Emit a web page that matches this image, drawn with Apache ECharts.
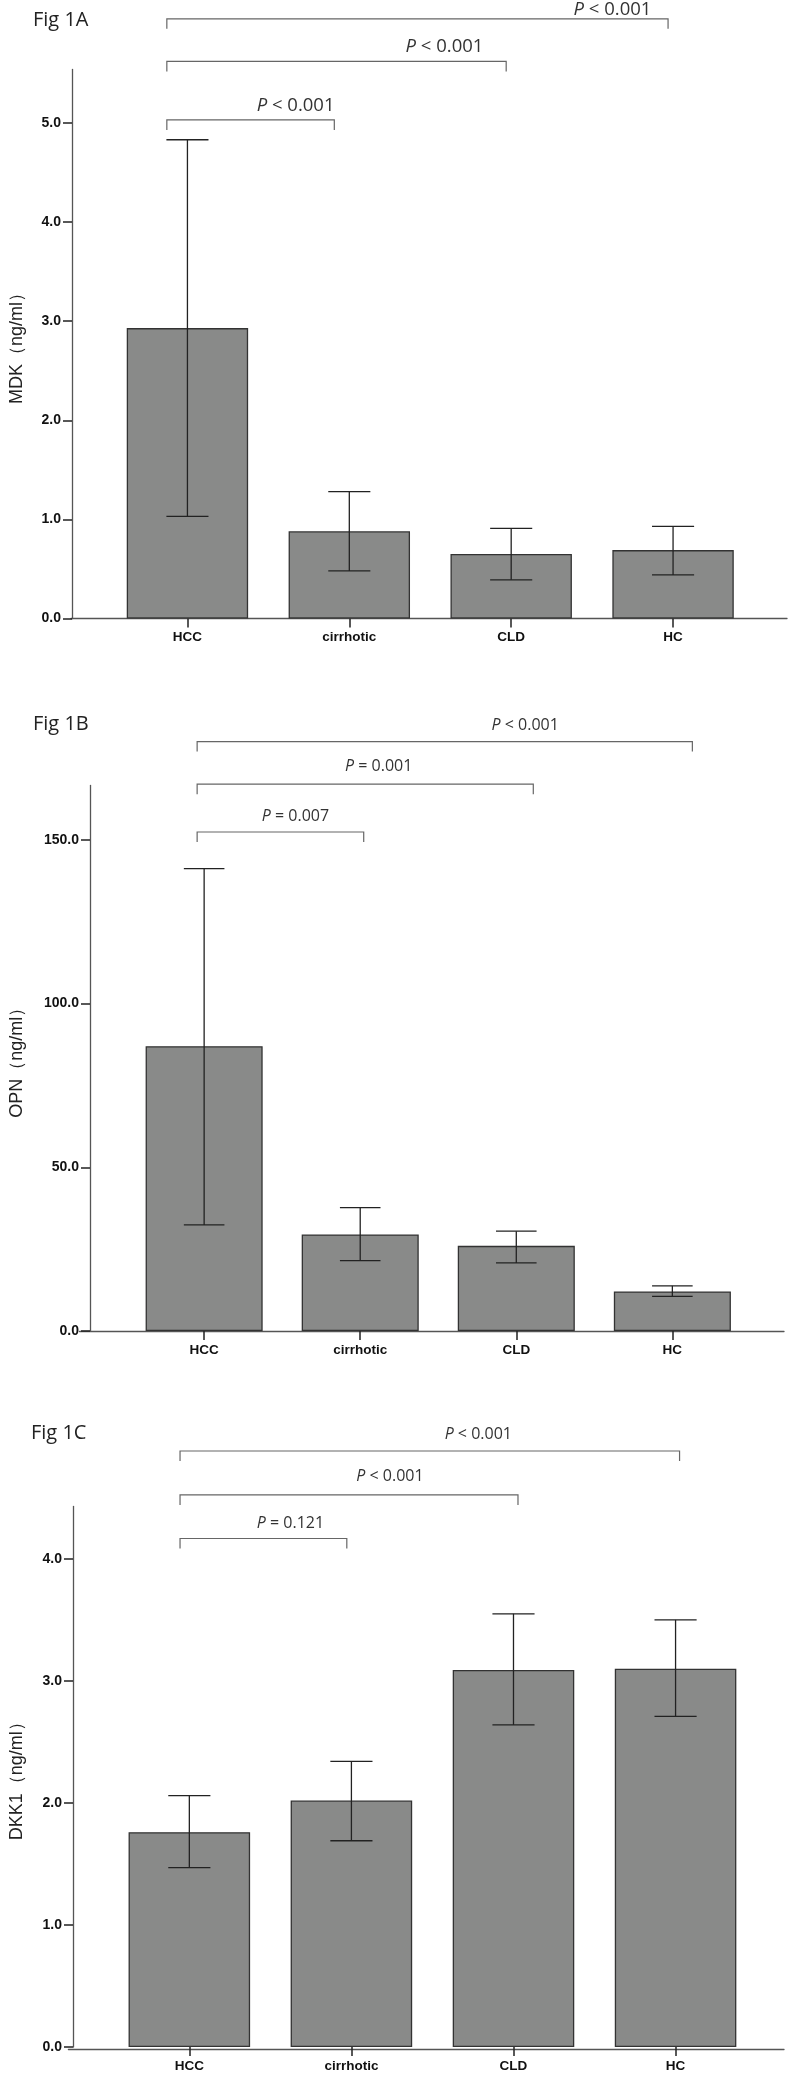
<!DOCTYPE html>
<html>
<head>
<meta charset="utf-8">
<script src="https://cdn.jsdelivr.net/npm/echarts@6/dist/echarts.min.js"></script>
<style>
* { margin: 0; padding: 0; }
body { background: #fff; }
#main { width: 794px; height: 2073px; }
</style>
</head>
<body>
<div id="main"></div>
<script>
var categories = ['HCC', 'cirrhotic', 'CLD', 'HC'];

// Fig 1A - MDK
var mdkMean = [2.93, 0.88, 0.65, 0.69];
var mdkLow = [1.03, 0.48, 0.39, 0.44];
var mdkHigh = [4.83, 1.28, 0.91, 0.93];
var mdkTicks = [0, 1, 2, 3, 4, 5];
var mdkP = ['P < 0.001', 'P < 0.001', 'P < 0.001'];

// Fig 1B - OPN
var opnMean = [87.0, 29.5, 26.0, 12.1];
var opnLow = [32.4, 21.5, 20.8, 10.6];
var opnHigh = [141.2, 37.7, 30.5, 13.8];
var opnTicks = [0, 50, 100, 150];
var opnP = ['P = 0.007', 'P = 0.001', 'P < 0.001'];

// Fig 1C - DKK1
var dkkMean = [1.76, 2.02, 3.09, 3.10];
var dkkLow = [1.47, 1.69, 2.64, 2.71];
var dkkHigh = [2.06, 2.34, 3.55, 3.50];
var dkkTicks = [0, 1, 2, 3, 4];
var dkkP = ['P = 0.121', 'P < 0.001', 'P < 0.001'];

// HCC compared with cirrhotic, CLD, HC
var pairs = [[0, 1], [0, 2], [0, 3]];

// layout of each panel (pixels)
var panels = [
  {
    title: 'Fig 1A', titleX: 33, titleY: 22, name: 'MDK（ng/ml）',
    mean: mdkMean, low: mdkLow, high: mdkHigh, ticks: mdkTicks, p: mdkP,
    left: 105.5, right: 40, top: 69.4, bottom: 1454.5, axisX: 71, axisEnd: 787,
    max: 5.54, nameGap: 46,
    levels: [5.03, 5.62, 6.05], dxL: [-20.6, -20.6, -20.6], dxR: [-15, -5, -5],
    textDx: [45, 108, 195], textDy: [14, 14.8, 9.5], pFont: 18.5
  },
  {
    title: 'Fig 1B', titleX: 33, titleY: 726, name: 'OPN（ng/ml）',
    mean: opnMean, low: opnLow, high: opnHigh, ticks: opnTicks, p: opnP,
    left: 115.6, right: 43.6, top: 785.5, bottom: 742, axisX: 79.5, axisEnd: 784,
    max: 166.6, nameGap: 64,
    levels: [152.4, 167.0, 180.0], dxL: [-7, -7, -7], dxR: [3.5, 17, 20],
    textDx: [15, 13.5, 80.5], textDy: [16, 17.5, 16], pFont: 16
  },
  {
    title: 'Fig 1C', titleX: 31, titleY: 1435, name: 'DKK1（ng/ml）',
    mean: dkkMean, low: dkkLow, high: dkkHigh, ticks: dkkTicks, p: dkkP,
    left: 103.7, right: 37.4, top: 1506.4, bottom: 24, axisX: 68.4, axisEnd: 784,
    max: 4.43, nameGap: 47,
    levels: [4.167, 4.524, 4.884], dxL: [-9.3, -9.3, -9.3], dxR: [-4.6, 4.5, 4],
    textDx: [27, 41, 48.5], textDy: [15, 18, 17], pFont: 16
  }
];

function errorBar(params, api) {
  var i = api.value(0);
  var lo = api.coord([i, api.value(1)]);
  var hi = api.coord([i, api.value(2)]);
  var hw = api.size([1, 0])[0] * 0.13;
  var st = { stroke: '#222', lineWidth: 1.3 };
  return {
    type: 'group',
    children: [
      { type: 'line', shape: { x1: hi[0], y1: hi[1], x2: lo[0], y2: lo[1] }, style: st },
      { type: 'line', shape: { x1: hi[0] - hw, y1: hi[1], x2: hi[0] + hw, y2: hi[1] }, style: st },
      { type: 'line', shape: { x1: lo[0] - hw, y1: lo[1], x2: lo[0] + hw, y2: lo[1] }, style: st }
    ]
  };
}

function makeBracket(p) {
  return function (params, api) {
    var j = api.value(2);
    var a = api.coord([api.value(0), p.levels[j]]);
    var b = api.coord([api.value(1), p.levels[j]]);
    var x1 = a[0] + p.dxL[j];
    var x2 = b[0] + p.dxR[j];
    var y = a[1];
    return {
      type: 'group',
      children: [
        {
          type: 'polyline',
          shape: { points: [[x1, y + 10], [x1, y], [x2, y], [x2, y + 10]] },
          style: { stroke: '#666', lineWidth: 1.2, fill: 'none' }
        },
        {
          type: 'text',
          x: (x1 + x2) / 2 + p.textDx[j],
          y: y - p.textDy[j],
          style: {
            text: p.p[j].replace(/^P/, '{i|P}'),
            rich: { i: { fontStyle: 'italic', fontFamily: 'Open Sans', fontSize: p.pFont, fill: '#333' } },
            fontFamily: 'Open Sans', fontSize: p.pFont, fill: '#333',
            align: 'center', verticalAlign: 'middle'
          }
        }
      ]
    };
  };
}

var grids = [], xAxes = [], yAxes = [], series = [], titles = [];

panels.forEach(function (p, k) {
  var g = 2 * k, h = 2 * k + 1;
  titles.push({
    text: p.title, left: p.titleX, top: p.titleY - 12, padding: 0,
    textStyle: { fontFamily: 'Open Sans', fontSize: 20, fontWeight: 'normal', color: '#222' }
  });
  grids.push({ left: p.left, right: p.right, top: p.top, bottom: p.bottom });
  grids.push({ left: p.axisX, right: 794 - p.axisEnd, top: p.top, bottom: p.bottom });

  xAxes.push({
    gridIndex: g, type: 'category', data: categories,
    axisLine: { show: false },
    axisTick: { show: true, alignWithLabel: true, length: 9, lineStyle: { color: '#222', width: 1.5 } },
    axisLabel: { margin: 12, fontFamily: 'Liberation Sans', fontWeight: 'bold', fontSize: 13.5, color: '#111' }
  });
  xAxes.push({
    gridIndex: h, type: 'value', min: 0, max: 1,
    axisLine: { show: true, onZero: false, lineStyle: { color: '#555', width: 1.3 } },
    axisTick: { show: false }, axisLabel: { show: false }, splitLine: { show: false }
  });

  yAxes.push({
    gridIndex: g, type: 'value', min: 0, max: p.max, offset: p.left - p.axisX,
    name: p.name, nameLocation: 'middle', nameRotate: 90, nameGap: p.nameGap,
    nameTextStyle: { fontFamily: 'Liberation Sans', fontSize: 18, color: '#222' },
    axisLine: { show: true, lineStyle: { color: '#555', width: 1.3 } },
    axisTick: { show: true, length: 9, customValues: p.ticks, lineStyle: { color: '#222', width: 1.5 } },
    axisLabel: {
      customValues: p.ticks, margin: 11,
      formatter: function (v) { return v.toFixed(1); },
      fontFamily: 'Liberation Sans', fontWeight: 'bold', fontSize: 14, color: '#111'
    },
    splitLine: { show: false }
  });
  yAxes.push({ gridIndex: h, type: 'value', min: 0, max: 1, show: false });

  series.push({
    type: 'bar', xAxisIndex: g, yAxisIndex: g, data: p.mean, barWidth: '75%',
    itemStyle: { color: '#898a89', borderColor: '#333', borderWidth: 1.3 },
    silent: true
  });
  series.push({
    type: 'custom', xAxisIndex: g, yAxisIndex: g, z: 5, silent: true,
    data: p.mean.map(function (m, i) { return [i, p.low[i], p.high[i]]; }),
    renderItem: errorBar
  });
  series.push({
    type: 'custom', xAxisIndex: g, yAxisIndex: g, z: 5, silent: true, clip: false,
    data: pairs.map(function (pr, j) { return [pr[0], pr[1], j]; }),
    renderItem: makeBracket(p)
  });
});

var chart = echarts.init(document.getElementById('main'), null, { renderer: 'canvas' });
chart.setOption({
  animation: false,
  backgroundColor: '#fff',
  title: titles,
  grid: grids,
  xAxis: xAxes,
  yAxis: yAxes,
  series: series
});
</script>
</body>
</html>
